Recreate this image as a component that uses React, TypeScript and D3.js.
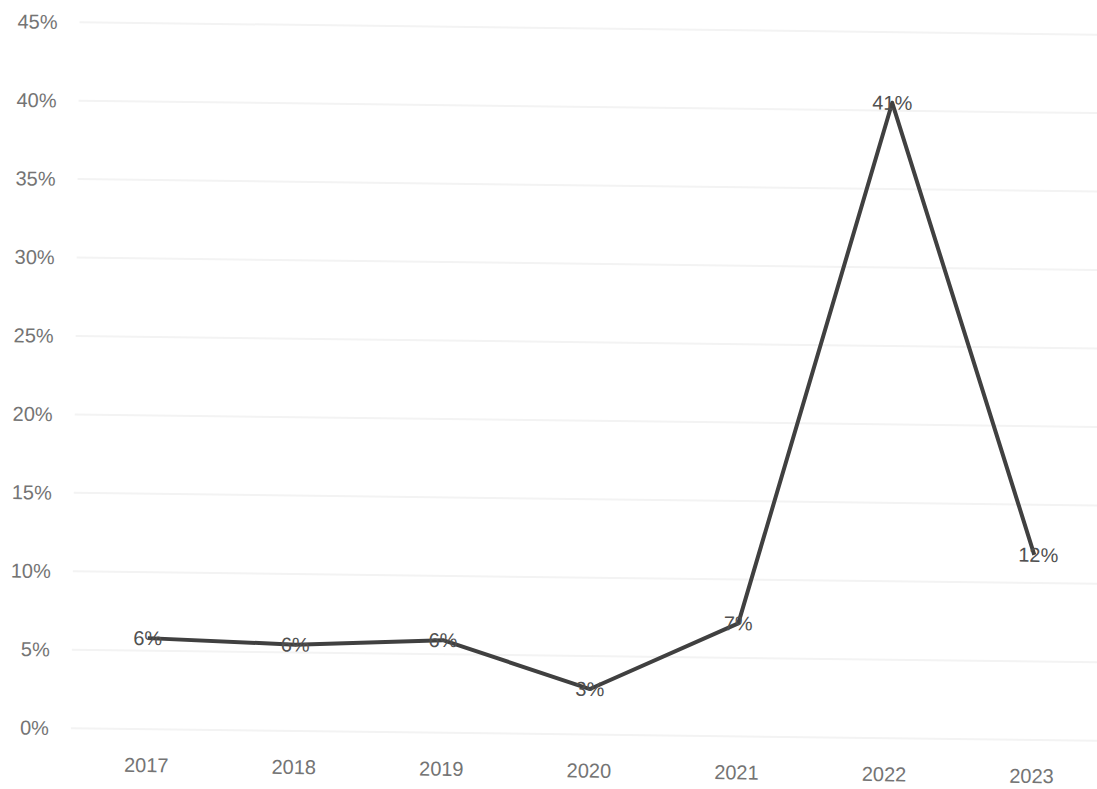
import React from "react";
import * as d3 from "d3";

const years = ["2017", "2018", "2019", "2020", "2021", "2022", "2023"];
const values = [0.058, 0.055, 0.059, 0.029, 0.072, 0.405, 0.118];
const yTicks = [0, 0.05, 0.1, 0.15, 0.2, 0.25, 0.3, 0.35, 0.4, 0.45];

const W = 1097;
const H = 789;

export default function App() {
  const x = d3.scaleBand<string>().domain(years).range([77, 1110]);
  const y = d3.scaleLinear().domain([0, 0.45]).range([734, 28]);
  const cx = (d: string) => (x(d) as number) + x.bandwidth() / 2;
  const line = d3
    .line<number>()
    .x((_, i) => cx(years[i]))
    .y((v) => y(v));
  const fmt = d3.format(".0%");
  const font = "'Liberation Sans', Arial, sans-serif";

  return (
    <svg
      width={W}
      height={H}
      style={{ position: "absolute", left: 0, top: 0, background: "#fff" }}
    >
      <rect width={W} height={H} fill="#fff" />
      <g transform={`rotate(0.7, ${W / 2}, ${H / 2})`}>
        {yTicks.map((t) => (
          <g key={t}>
            <line
              x1={75}
              x2={1120}
              y1={y(t)}
              y2={y(t)}
              stroke="#f3f3f3"
              strokeWidth={2}
            />
            <text
              x={53}
              y={y(t)}
              textAnchor="end"
              dominantBaseline="central"
              fontFamily={font}
              fontSize={20}
              fill="#747474"
            >
              {fmt(t)}
            </text>
          </g>
        ))}
        {years.map((yr) => (
          <text
            key={yr}
            x={cx(yr)}
            y={770}
            textAnchor="middle"
            dominantBaseline="central"
            fontFamily={font}
            fontSize={20}
            fill="#747474"
          >
            {yr}
          </text>
        ))}
        <path
          d={line(values) || ""}
          fill="none"
          stroke="#404040"
          strokeWidth={4}
          strokeLinejoin="round"
        />
        {values.map((v, i) => (
          <text
            key={years[i]}
            x={cx(years[i]) + (i === 6 ? 4 : 0)}
            y={y(v)}
            textAnchor="middle"
            dominantBaseline="central"
            fontFamily={font}
            fontSize={20}
            fill="#505050"
          >
            {fmt(v)}
          </text>
        ))}
      </g>
    </svg>
  );
}
